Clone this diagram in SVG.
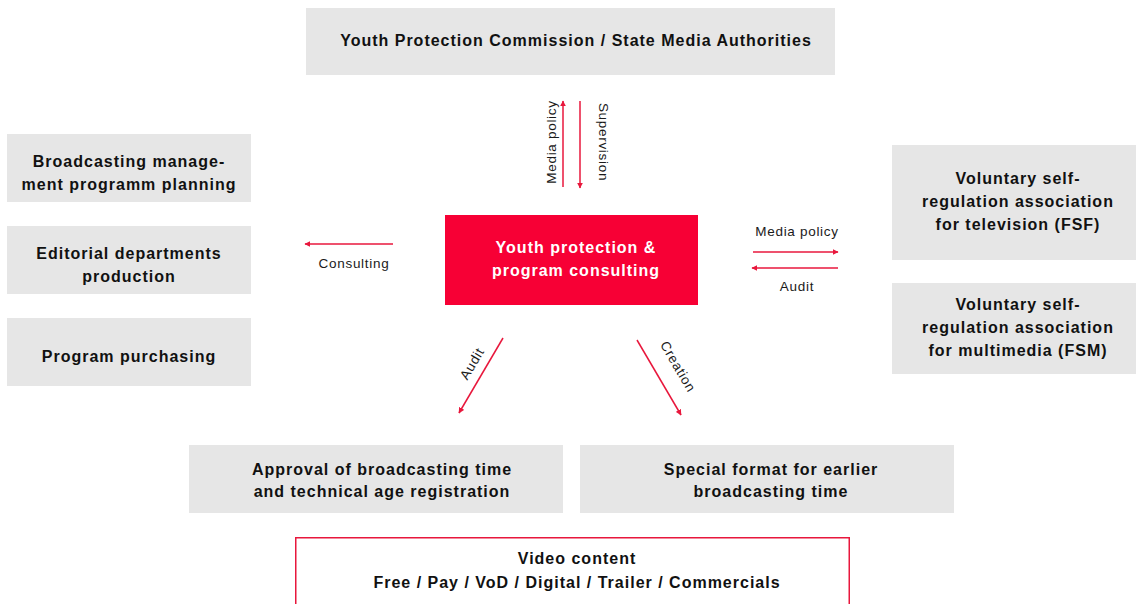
<svg xmlns="http://www.w3.org/2000/svg" width="1140" height="604" viewBox="0 0 1140 604">
  <style>
    .box { fill: #e6e6e6; }
    .hot { fill: #f70035; }
    .t { font-family: "Liberation Sans", Arial, sans-serif; font-weight: bold; font-size: 16px; letter-spacing: 1px; fill: #111; text-anchor: middle; }
    .tw { fill: #fff; }
    .lbl { font-family: "Liberation Sans", Arial, sans-serif; font-size: 13.5px; letter-spacing: 0.7px; fill: #1a1a1a; text-anchor: middle; }
    .arr { stroke: #e8173c; stroke-width: 1.5; fill: none; marker-end: url(#head); }
  </style>
  <defs>
    <marker id="head" viewBox="0 0 10 10" refX="9" refY="5" markerWidth="6" markerHeight="6" markerUnits="userSpaceOnUse" orient="auto">
      <path d="M0,0 L10,5 L0,10 Z" fill="#e8173c"/>
    </marker>
  </defs>

  <rect width="1140" height="604" fill="#fff"/>

  <g id="authorities">
    <rect class="box" x="306" y="8" width="529" height="67"/>
    <text class="t" x="576" y="46">Youth Protection Commission / State Media Authorities</text>
  </g>

  <g id="planning">
    <rect class="box" x="7" y="134" width="244" height="68"/>
    <text class="t" x="129" y="167">Broadcasting manage-</text>
    <text class="t" x="129" y="190">ment programm planning</text>
  </g>

  <g id="editorial">
    <rect class="box" x="7" y="226" width="244" height="68"/>
    <text class="t" x="129" y="259">Editorial departments</text>
    <text class="t" x="129" y="282">production</text>
  </g>

  <g id="purchasing">
    <rect class="box" x="7" y="318" width="244" height="68"/>
    <text class="t" x="129" y="362">Program purchasing</text>
  </g>

  <g id="consulting">
    <rect class="hot" x="445" y="215" width="253" height="90"/>
    <text class="t tw" x="576" y="253">Youth protection &amp;</text>
    <text class="t tw" x="576" y="276">program consulting</text>
  </g>

  <g id="fsf">
    <rect class="box" x="892" y="145" width="244" height="115"/>
    <text class="t" x="1018" y="184">Voluntary self-</text>
    <text class="t" x="1018" y="207">regulation association</text>
    <text class="t" x="1018" y="230">for television (FSF)</text>
  </g>

  <g id="fsm">
    <rect class="box" x="892" y="283" width="244" height="91"/>
    <text class="t" x="1018" y="310">Voluntary self-</text>
    <text class="t" x="1018" y="333">regulation association</text>
    <text class="t" x="1018" y="356">for multimedia (FSM)</text>
  </g>

  <g id="approval">
    <rect class="box" x="189" y="445" width="374" height="68"/>
    <text class="t" x="382" y="475">Approval of broadcasting time</text>
    <text class="t" x="382" y="497">and technical age registration</text>
  </g>

  <g id="special-format">
    <rect class="box" x="580" y="445" width="374" height="68"/>
    <text class="t" x="771" y="475">Special format for earlier</text>
    <text class="t" x="771" y="497">broadcasting time</text>
  </g>

  <g id="video-content">
    <rect x="295.75" y="537.75" width="553.5" height="80" fill="#fff" stroke="#e8173c" stroke-width="1.5"/>
    <text class="t" x="577" y="564">Video content</text>
    <text class="t" x="577" y="588">Free / Pay / VoD / Digital / Trailer / Commercials</text>
  </g>

  <g id="connectors">
    <line class="arr" x1="563" y1="187" x2="563" y2="101"/>
    <text class="lbl" transform="translate(556,142) rotate(-90)">Media policy</text>
    <line class="arr" x1="580" y1="101" x2="580" y2="188"/>
    <text class="lbl" transform="translate(599,142) rotate(90)">Supervision</text>

    <line class="arr" x1="393" y1="244" x2="305" y2="244"/>
    <text class="lbl" x="354" y="268">Consulting</text>

    <line class="arr" x1="753" y1="252" x2="838" y2="252"/>
    <text class="lbl" x="797" y="236">Media policy</text>
    <line class="arr" x1="838" y1="268" x2="752" y2="268"/>
    <text class="lbl" x="797" y="291">Audit</text>

    <line class="arr" x1="503" y1="338" x2="459" y2="413"/>
    <text class="lbl" transform="translate(476,366) rotate(-59.6)">Audit</text>
    <line class="arr" x1="637" y1="340" x2="681" y2="415"/>
    <text class="lbl" transform="translate(674,369) rotate(59.6)">Creation</text>
  </g>
</svg>
